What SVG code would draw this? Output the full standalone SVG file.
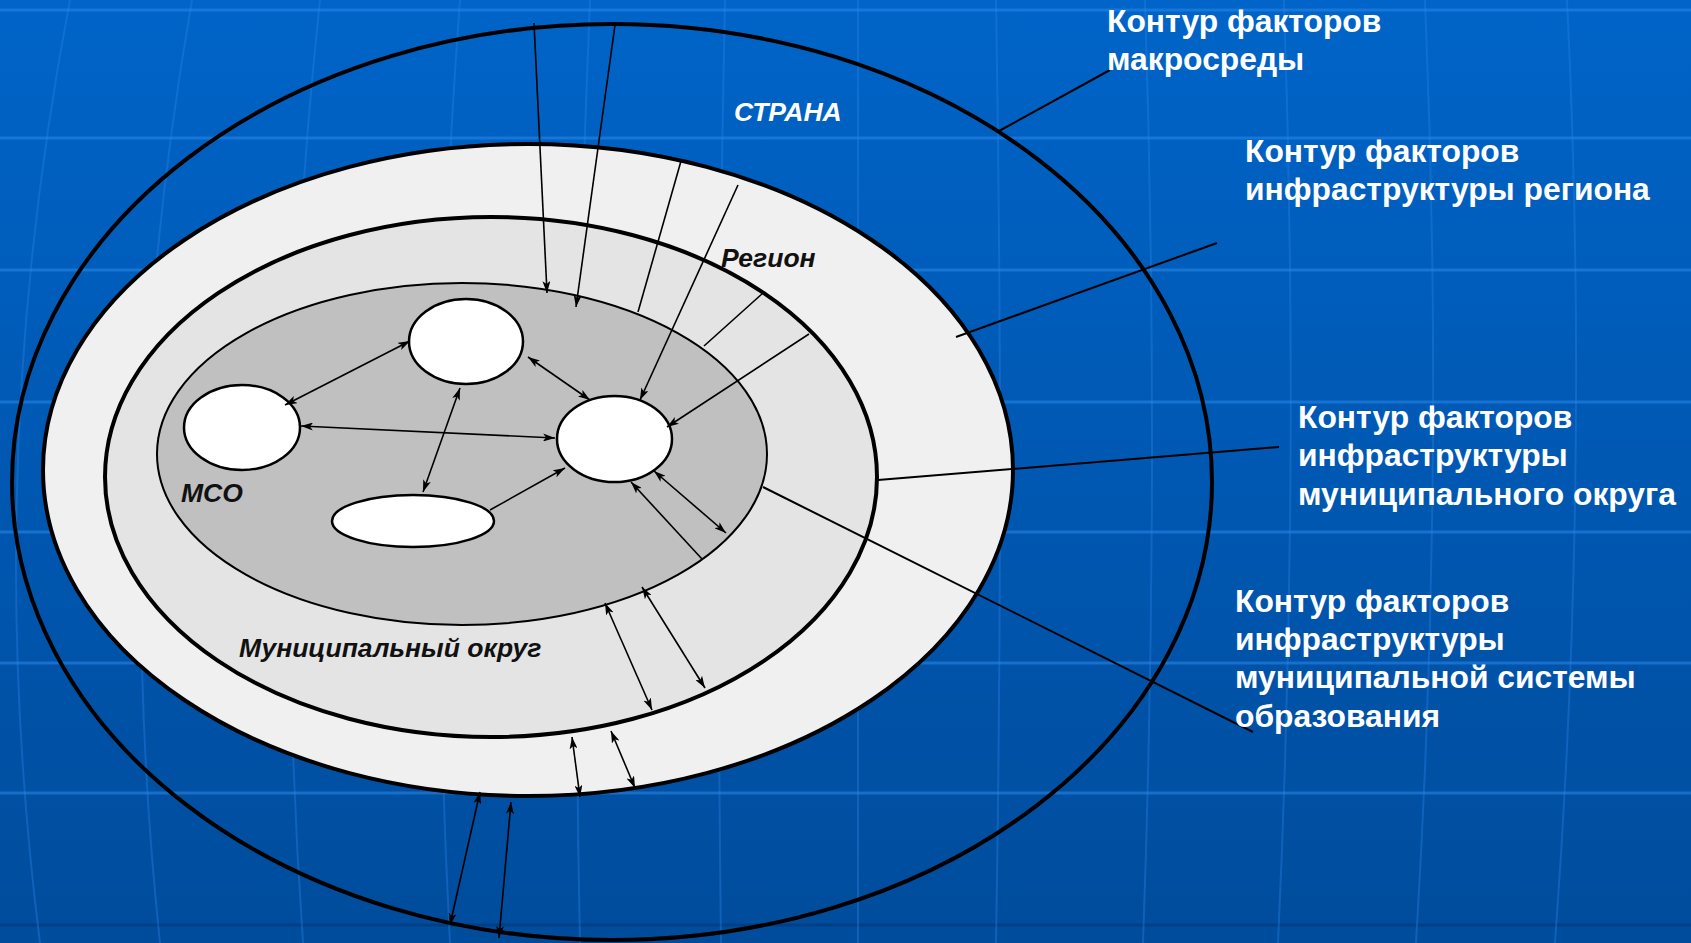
<svg xmlns="http://www.w3.org/2000/svg" width="1691" height="943" viewBox="0 0 1691 943">
<defs>
<linearGradient id="bg" x1="0" y1="0" x2="0" y2="1">
<stop offset="0" stop-color="#0064c8"/>
<stop offset="1" stop-color="#004c9c"/>
</linearGradient>
<marker id="ah" markerUnits="userSpaceOnUse" markerWidth="12" markerHeight="8" refX="12" refY="4" orient="auto-start-reverse" viewBox="0 0 12 8">
<path d="M0,0 L12,4 L0,8 L3,4 z" fill="#000"/>
</marker>
</defs>
<style>
.grid{stroke:#2a88ea;stroke-width:3;fill:none;opacity:0.55}
.mer{stroke:#2a88ea;stroke-width:2;fill:none;opacity:0.35}
.ring{stroke:#000;stroke-width:4}
.node{fill:#fff;stroke:#000;stroke-width:2.5}
.c{stroke:#000;stroke-width:1.6;fill:none}
.a2{marker-start:url(#ah);marker-end:url(#ah)}
.a1{marker-end:url(#ah)}
.lead{stroke:#000;stroke-width:2;fill:none}
.lbl{font-family:"Liberation Sans",Arial,sans-serif;font-weight:bold;font-size:31.8px;fill:#fff}
.it{font-family:"Liberation Sans",Arial,sans-serif;font-weight:bold;font-style:italic;font-size:26.5px}
</style>
<rect width="1691" height="943" fill="url(#bg)"/>
<g id="background-grid">
<line class="grid" x1="0" y1="10" x2="1691" y2="10"/>
<line class="grid" x1="0" y1="138" x2="1691" y2="138"/>
<line class="grid" x1="0" y1="270" x2="1691" y2="270"/>
<line class="grid" x1="0" y1="402" x2="1691" y2="402"/>
<line class="grid" x1="0" y1="532" x2="1691" y2="532"/>
<line class="grid" x1="0" y1="663" x2="1691" y2="663"/>
<line class="grid" x1="0" y1="793" x2="1691" y2="793"/>
<line x1="0" y1="925" x2="1691" y2="925" stroke="#003f86" stroke-width="3"/>
<path class="mer" d="M70,0 Q-20,470 40,943"/>
<path class="mer" d="M192,0 Q110,470 160,943"/>
<path class="mer" d="M320,0 Q270,470 303,943"/>
<path class="mer" d="M460,0 Q425,470 450,943"/>
<path class="mer" d="M590,0 Q570,470 580,943"/>
<path class="mer" d="M725,0 Q715,470 721,943"/>
<path class="mer" d="M858,0 Q858,470 858,943"/>
<path class="mer" d="M996,0 Q1004,470 996,943"/>
<path class="mer" d="M1145,0 Q1160,470 1143,943"/>
<path class="mer" d="M1284,0 Q1300,470 1278,943"/>
<path class="mer" d="M1425,0 Q1445,470 1416,943"/>
<path class="mer" d="M1567,0 Q1590,470 1555,943"/>
</g>
<g id="outer-macro">
<ellipse class="ring" cx="612" cy="482" rx="600" ry="458" fill="none"/>
</g>
<g id="region-contour">
<ellipse class="ring" cx="528" cy="470" rx="485" ry="326" fill="#f0f0f0"/>
</g>
<g id="municipal-district">
<ellipse class="ring" cx="491" cy="477" rx="386" ry="260" fill="#e4e4e4"/>
</g>
<g id="mso">
<ellipse cx="462" cy="454" rx="305" ry="171" fill="#c0c0c0" stroke="#000" stroke-width="2"/>
</g>
<g id="node-a"><ellipse class="node" cx="466" cy="341.5" rx="57" ry="42.5"/></g>
<g id="node-b"><ellipse class="node" cx="242" cy="427.5" rx="58" ry="42.5"/></g>
<g id="node-c"><ellipse class="node" cx="614.5" cy="439" rx="57.5" ry="43"/></g>
<g id="node-d"><ellipse class="node" cx="413" cy="521" rx="81" ry="26"/></g>
<g id="connectors">
<line class="c a2" x1="285" y1="405" x2="410" y2="341"/>
<line class="c a2" x1="301" y1="426" x2="555" y2="438"/>
<line class="c a2" x1="528" y1="357" x2="590" y2="400"/>
<line class="c a2" x1="460" y1="388" x2="423" y2="492"/>
<line class="c a1" x1="490" y1="510" x2="565" y2="468"/>
<line class="c a1" x1="738" y1="185" x2="640" y2="400"/>
<line class="c a1" x1="809" y1="334" x2="667" y2="427"/>
<line class="c a1" x1="534" y1="23" x2="547" y2="293"/>
<line class="c a1" x1="615" y1="25" x2="576" y2="307"/>
<line class="c" x1="681" y1="161" x2="638" y2="312"/>
<line class="c" x1="763" y1="293" x2="704" y2="346"/>
<line class="c a2" x1="654" y1="471" x2="726" y2="533"/>
<line class="c a1" x1="702" y1="559" x2="631" y2="482"/>
<line class="c a2" x1="605" y1="603" x2="652" y2="710"/>
<line class="c a2" x1="642" y1="587" x2="705" y2="688"/>
<line class="c a2" x1="572" y1="737" x2="580" y2="797"/>
<line class="c a2" x1="611" y1="731" x2="635" y2="788"/>
<line class="c a2" x1="480" y1="792" x2="450" y2="925"/>
<line class="c a2" x1="511" y1="802" x2="499" y2="938"/>
<line class="lead" x1="999" y1="131" x2="1110" y2="70"/>
<line class="lead" x1="956" y1="337" x2="1217" y2="243"/>
<line class="lead" x1="878" y1="480" x2="1279" y2="447"/>
<line class="lead" x1="763" y1="487" x2="1253" y2="732"/>
</g>
<g id="labels">
<text class="it" x="734" y="121" fill="#fff">СТРАНА</text>
<text class="it" x="721" y="267" fill="#111" font-size="28">Регион</text>
<text class="it" x="181" y="502" fill="#111" font-size="28">МСО</text>
<text class="it" x="239" y="657" fill="#111">Муниципальный округ</text>
<text class="lbl" x="1107" y="32">Контур факторов</text>
<text class="lbl" x="1245" y="162">Контур факторов</text>
<text class="lbl" x="1107" y="70">макросреды</text>
<text class="lbl" x="1245" y="200">инфраструктуры региона</text>
<text class="lbl" x="1298" y="428">Контур факторов</text>
<text class="lbl" x="1298" y="466">инфраструктуры</text>
<text class="lbl" x="1298" y="505">муниципального округа</text>
<text class="lbl" x="1235" y="612">Контур факторов</text>
<text class="lbl" x="1235" y="650">инфраструктуры</text>
<text class="lbl" x="1235" y="688">муниципальной системы</text>
<text class="lbl" x="1235" y="727">образования</text>
</g>
</svg>
